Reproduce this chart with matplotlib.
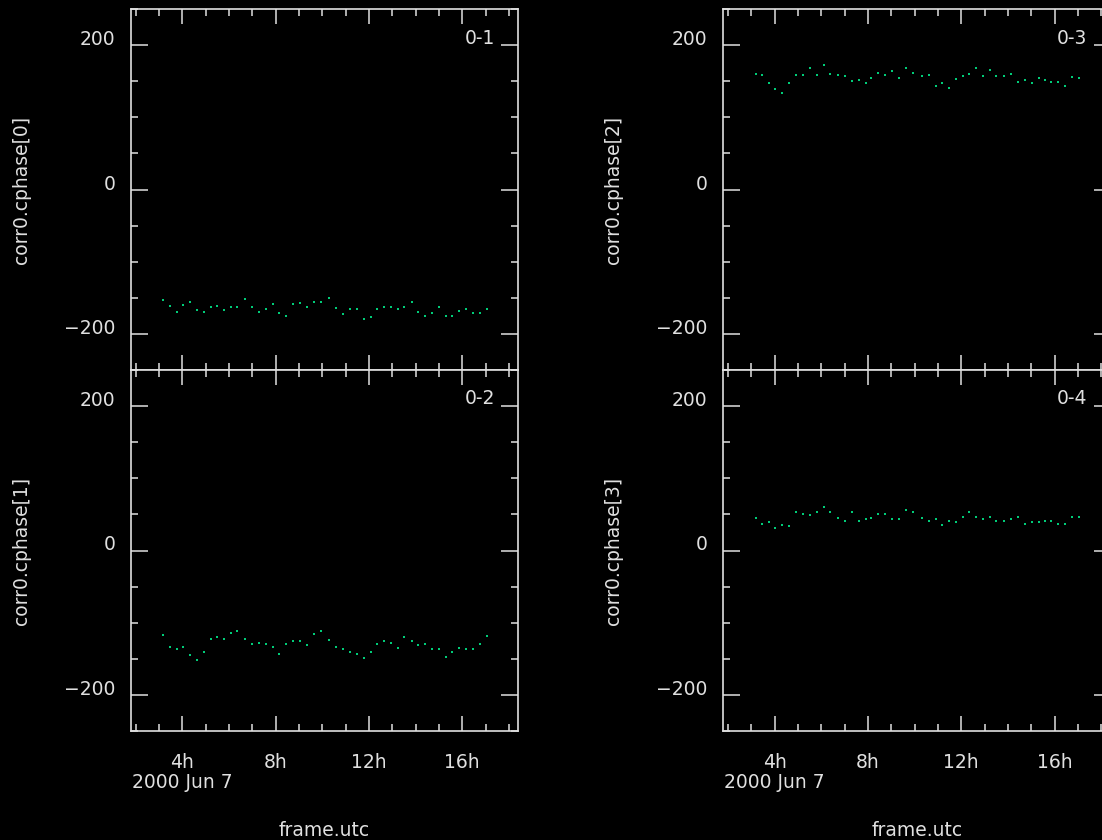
import matplotlib
matplotlib.use("Agg")
import matplotlib.pyplot as plt
from matplotlib.ticker import FixedLocator, MultipleLocator, FuncFormatter

# ---- data ----
hours = [3.19, 3.47, 3.77, 4.03, 4.33, 4.62, 4.92, 5.22, 5.50, 5.80,
         6.10, 6.36, 6.70, 7.00, 7.30, 7.60, 7.90, 8.14, 8.44, 8.74,
         9.04, 9.33, 9.63, 9.93, 10.30, 10.60, 10.90, 11.19, 11.49, 11.79,
         12.07, 12.34, 12.63, 12.93, 13.23, 13.51, 13.84, 14.12, 14.42, 14.72,
         15.02, 15.32, 15.58, 15.86, 16.16, 16.46, 16.74, 17.04]

cphase0 = [-153, -162, -169, -160, -156, -167, -169, -163, -161, -167,
           -163, -163, -152, -163, -169, -166, -159, -171, -175, -158,
           -157, -163, -156, -156, -150, -164, -173, -165, -165, -179,
           -177, -165, -163, -163, -165, -163, -156, -169, -175, -171,
           -163, -175, -175, -168, -165, -171, -171, -165]

cphase1 = [-117, -134, -136, -133, -145, -151, -140, -122, -120, -122,
           -114, -112, -122, -130, -128, -130, -133, -143, -130, -125,
           -125, -131, -116, -112, -124, -134, -136, -140, -143, -149,
           -141, -130, -125, -128, -135, -120, -125, -131, -130, -136,
           -137, -147, -141, -135, -136, -137, -130, -119]

cphase2 = [160, 158, 147, 139, 134, 147, 159, 159, 168, 159,
           172, 160, 159, 157, 150, 151, 148, 154, 162, 159,
           164, 154, 168, 162, 157, 158, 143, 148, 141, 153,
           157, 160, 168, 157, 166, 157, 157, 160, 149, 151,
           147, 154, 151, 149, 149, 143, 156, 154]

cphase3 = [45, 37, 39, 31, 36, 34, 53, 50, 49, 53,
           60, 54, 45, 41, 53, 41, 43, 45, 51, 51,
           43, 43, 56, 53, 45, 41, 43, 35, 41, 39,
           47, 53, 47, 43, 47, 41, 41, 43, 47, 37,
           39, 39, 41, 41, 37, 37, 47, 46]

ylabels = ["corr0.cphase[0]", "corr0.cphase[1]", "corr0.cphase[2]", "corr0.cphase[3]"]
baselines = ["0-1", "0-2", "0-3", "0-4"]
series = [cphase0, cphase1, cphase2, cphase3]
xticks = [4, 8, 12, 16]
yticks = [-200, 0, 200]
date_label = "2000 Jun 7"
xlabel = "frame.utc"

# ---- style ----
W, H = 1102, 840
FG = "#e0e0e0"
PT = "#00cc78"
fs = 13.5

fig = plt.figure(figsize=(W / 100, H / 100), dpi=100, facecolor="black")

ax_w = 387.6
ax_h = 361.0
lefts = [130.7, 130.7, 723.0, 723.0]
tops = [9.0, 370.0, 9.0, 370.0]

for i in range(4):
    l, t = lefts[i], tops[i]
    ax = fig.add_axes([l / W, 1 - (t + ax_h) / H, ax_w / W, ax_h / H])
    ax.set_facecolor("black")
    ax.plot(hours, series[i], linestyle="none", marker="s", markersize=1.7,
            markeredgewidth=0, color=PT)
    ax.set_xlim(1.79, 18.4)
    ax.set_ylim(-250, 250)
    for s in ax.spines.values():
        s.set_color(FG)
        s.set_linewidth(1.2)
    ax.xaxis.set_major_locator(FixedLocator(xticks))
    ax.xaxis.set_minor_locator(MultipleLocator(1))
    ax.yaxis.set_major_locator(FixedLocator(yticks))
    ax.yaxis.set_minor_locator(MultipleLocator(50))
    ax.xaxis.set_major_formatter(FuncFormatter(lambda v, p: f"{v:.0f}h"))
    ax.tick_params(which="both", direction="in", top=True, right=True,
                   color=FG, labelcolor=FG, labelsize=fs, width=1.1)
    ax.tick_params(which="major", length=11)
    ax.tick_params(which="minor", length=5)
    ax.tick_params(axis="y", which="major", length=12, pad=11)
    ax.tick_params(axis="x", which="major", pad=16)
    for lab in ax.get_yticklabels():
        lab.set_va("baseline")
    bottom_row = (i % 2 == 1)
    if not bottom_row:
        ax.tick_params(axis="x", labelbottom=False)
    else:
        ax.text(0.003, -51 / ax_h, date_label, transform=ax.transAxes,
                ha="left", va="center", color=FG, fontsize=fs)
        ax.text(0.5, -99 / ax_h, xlabel, transform=ax.transAxes,
                ha="center", va="center", color=FG, fontsize=fs)
    ax.set_ylabel(ylabels[i], color=FG, fontsize=fs)
    ax.yaxis.set_label_coords(-109.5 / ax_w, 0.5)
    ax.yaxis.label.set_va("center")
    ax.text(1 - 23 / ax_w, 1 - 29 / ax_h, baselines[i], transform=ax.transAxes,
            ha="right", va="center", color=FG, fontsize=fs)

fig.savefig("out.png", dpi=100, facecolor="black")
